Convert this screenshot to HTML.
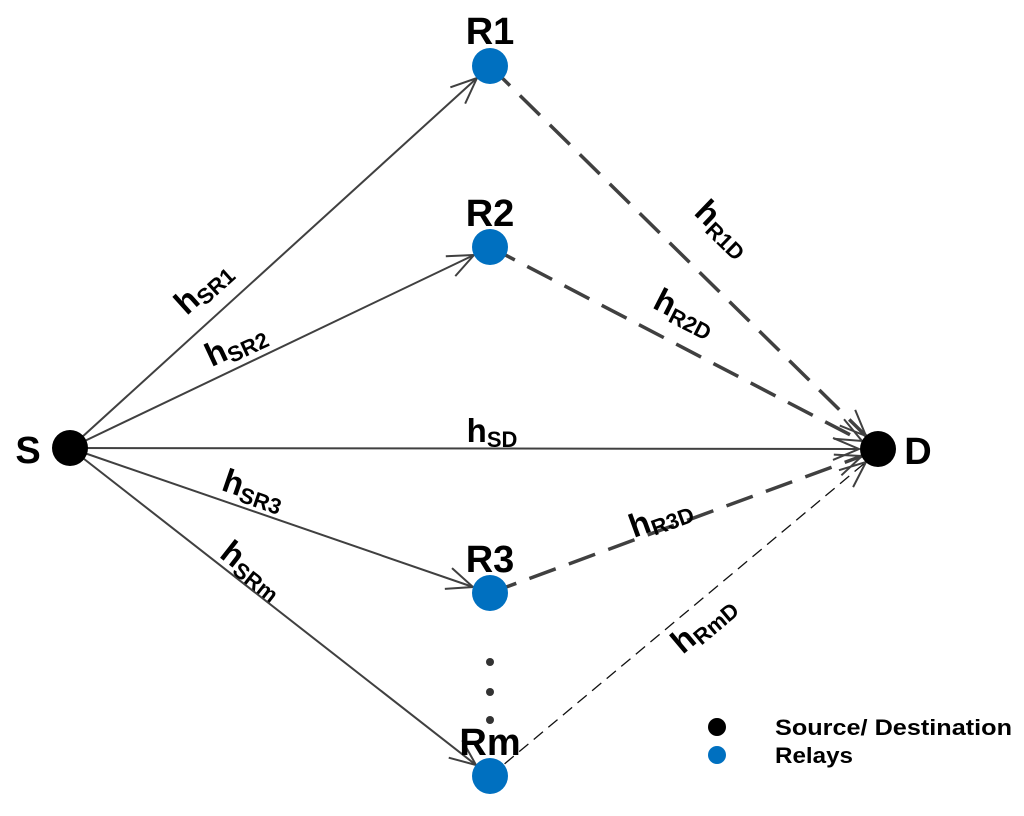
<!DOCTYPE html>
<html><head><style>html,body{margin:0;padding:0;background:#fff}</style></head>
<body>
<svg width="1024" height="811" viewBox="0 0 1024 811" xmlns="http://www.w3.org/2000/svg" font-family="Liberation Sans, sans-serif" font-weight="bold">
<defs>
<marker id="a" markerWidth="30" markerHeight="26" refX="27" refY="13" orient="auto" markerUnits="userSpaceOnUse">
<path d="M1,2 L27,13 L1,24" fill="none" stroke="#404040" stroke-width="2"/>
</marker>
</defs>
<g stroke="#404040" stroke-width="2" fill="none" marker-end="url(#a)">
<line x1="70" y1="448" x2="477" y2="78"/>
<line x1="70" y1="448" x2="474" y2="255"/>
<line x1="70" y1="448" x2="859" y2="449"/>
<line x1="70" y1="448" x2="473" y2="587"/>
<line x1="70" y1="448" x2="476" y2="765"/>
</g>
<g stroke="#404040" fill="none" marker-end="url(#a)">
<line x1="490" y1="66" x2="866" y2="436" stroke-width="3.5" stroke-dasharray="28,14"/>
<line x1="490" y1="247" x2="862" y2="441" stroke-width="3.5" stroke-dasharray="28,14"/>
<line x1="490" y1="593" x2="862" y2="456" stroke-width="3.5" stroke-dasharray="28,14"/>
<line x1="490" y1="776" x2="866" y2="462" stroke-width="1.3" stroke-dasharray="12,7" stroke="#111"/>
</g>
<circle cx="70" cy="448" r="18" fill="#000"/>
<circle cx="878" cy="449" r="18" fill="#000"/>
<g fill="#0070c0">
<circle cx="490" cy="66" r="18"/>
<circle cx="490" cy="247" r="18"/>
<circle cx="490" cy="593" r="18"/>
<circle cx="490" cy="776" r="18"/>
</g>
<g fill="#333">
<circle cx="490" cy="662" r="4"/><circle cx="490" cy="692" r="4"/><circle cx="490" cy="720" r="4"/>
</g>
<g font-size="38" fill="#000" text-anchor="middle">
<text x="490" y="44">R1</text>
<text x="490" y="226">R2</text>
<text x="490" y="572">R3</text>
<text x="490" y="755">Rm</text>
<text x="28" y="463">S</text>
<text x="918" y="464">D</text>
</g>
<g font-size="33" fill="#000" text-anchor="middle">
<text transform="translate(210,295) rotate(-42)">h<tspan font-size="22" dy="5">SR1</tspan></text>
<text transform="translate(240,354) rotate(-25)">h<tspan font-size="22" dy="5">SR2</tspan></text>
<text transform="translate(492,442)">h<tspan font-size="22" dy="5">SD</tspan></text>
<text transform="translate(250,500) rotate(19)">h<tspan font-size="22" dy="5">SR3</tspan></text>
<text transform="translate(246,578) rotate(38)">h<tspan font-size="22" dy="5">SRm</tspan></text>
<text transform="translate(716,236) rotate(44)">h<tspan font-size="22" dy="5">R1D</tspan></text>
<text transform="translate(680,322) rotate(27)">h<tspan font-size="22" dy="5">R2D</tspan></text>
<text transform="translate(664,527) rotate(-20)">h<tspan font-size="22" dy="5">R3D</tspan></text>
<text transform="translate(710,632) rotate(-40)">h<tspan font-size="22" dy="5">RmD</tspan></text>
</g>
<circle cx="717" cy="727" r="9" fill="#000"/>
<circle cx="717" cy="755" r="9" fill="#0070c0"/>
<g font-size="22" fill="#000">
<text x="775" y="735" textLength="237" lengthAdjust="spacingAndGlyphs">Source/ Destination</text>
<text x="775" y="763" textLength="78" lengthAdjust="spacingAndGlyphs">Relays</text>
</g>
</svg>
</body></html>
